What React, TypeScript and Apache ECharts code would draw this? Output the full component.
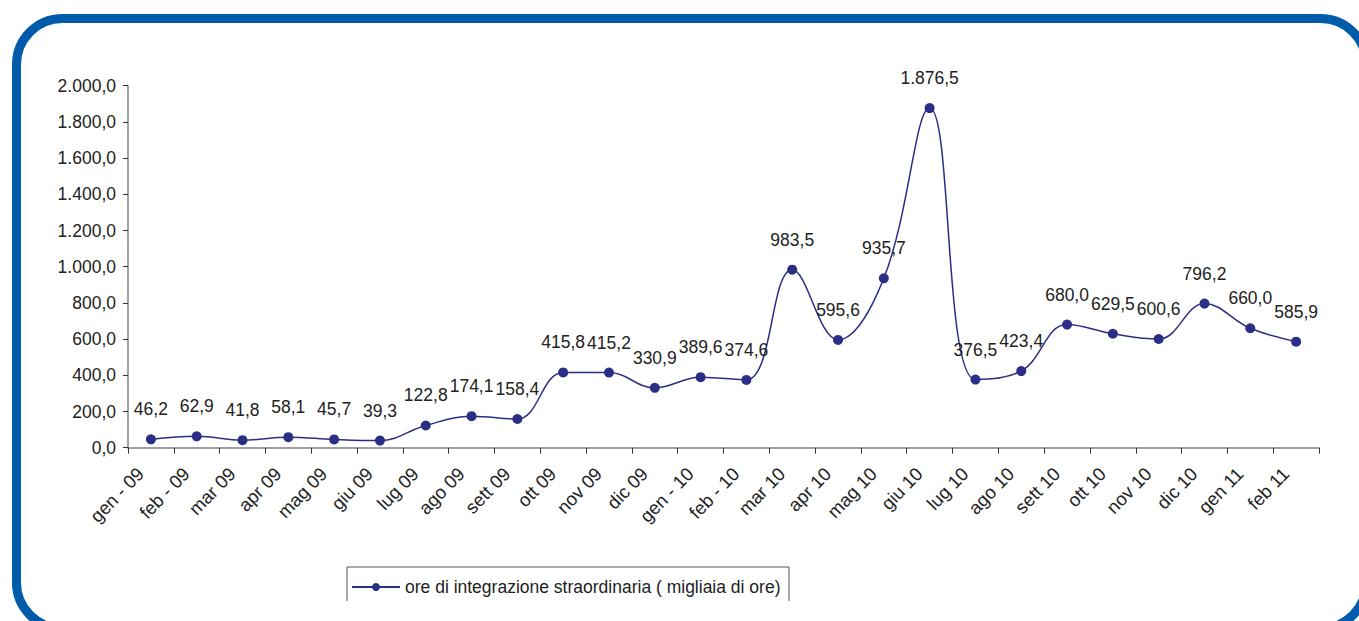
import React, { useEffect, useRef } from "react";
import * as echarts from "echarts";

const categories = [
  "gen - 09", "feb - 09", "mar 09", "apr 09", "mag 09", "giu 09", "lug 09", "ago 09", "sett 09",
  "ott 09", "nov 09", "dic 09", "gen - 10", "feb - 10", "mar 10", "apr 10", "mag 10", "giu 10",
  "lug 10", "ago 10", "sett 10", "ott 10", "nov 10", "dic 10", "gen 11", "feb 11",
];
const values = [
  46.2, 62.9, 41.8, 58.1, 45.7, 39.3, 122.8, 174.1, 158.4, 415.8, 415.2, 330.9, 389.6,
  374.6, 983.5, 595.6, 935.7, 1876.5, 376.5, 423.4, 680.0, 629.5, 600.6, 796.2, 660.0, 585.9,
];
const seriesName = "ore di integrazione straordinaria ( migliaia di ore)";

const fmt = (v: number) => {
  const s = v.toFixed(1);
  const [i, d] = s.split(".");
  const ii = i.replace(/\B(?=(\d{3})+(?!\d))/g, ".");
  return ii + "," + d;
};

export default function App() {
  const ref = useRef<HTMLDivElement>(null);
  useEffect(() => {
    const chart = echarts.init(ref.current!, null, { renderer: "svg" });
    const font = "'Liberation Sans', Arial, sans-serif";
    const navy = "#2b2e85";
    chart.setOption({
      animation: false,
      backgroundColor: "#ffffff",
      textStyle: { fontFamily: font },
      grid: { left: 128, right: 40, top: 85.7, bottom: 173.3, containLabel: false },
      xAxis: {
        type: "category",
        data: categories,
        boundaryGap: true,
        axisLine: { lineStyle: { color: "#808080", width: 1.5 } },
        axisTick: { show: true, inside: false, length: 6, lineStyle: { color: "#333" } },
        axisLabel: {
          rotate: 46,
          interval: 0,
          margin: 12,
          padding: [0, 15, 0, 0],
          color: "#222",
          fontSize: 18.5,
          fontFamily: font,
        },
        splitLine: { show: false },
      },
      yAxis: {
        type: "value",
        min: 0,
        max: 2000,
        interval: 200,
        axisLine: { show: true, lineStyle: { color: "#808080", width: 1.5 } },
        axisTick: { show: true, inside: false, length: 5, lineStyle: { color: "#333" } },
        axisLabel: {
          margin: 12,
          color: "#222",
          fontSize: 17.5,
          fontFamily: font,
          formatter: (v: number) => fmt(v),
        },
        splitLine: { show: false },
      },
      legend: {
        left: 346,
        top: 573,
        itemWidth: 48,
        itemHeight: 10,
        itemGap: 6,
        textStyle: { fontSize: 17.5, color: "#222", fontFamily: font },
        data: [seriesName],
      },
      series: [
        {
          name: seriesName,
          type: "line",
          data: values,
          smooth: 0.4,
          symbol: "circle",
          symbolSize: 10,
          lineStyle: { color: navy, width: 1.5 },
          itemStyle: { color: navy },
          label: {
            show: true,
            position: "top",
            distance: 16,
            color: "#222",
            fontSize: 17.5,
            fontFamily: font,
            formatter: (p: any) => fmt(p.value),
          },
        },
      ],
      graphic: [
        {
          type: "rect",
          shape: { x: 16.5, y: 18.5, width: 1350, height: 610, r: 46 },
          style: { fill: "none", stroke: "#005bab", lineWidth: 9 },
          silent: true,
        },
        {
          type: "polyline",
          shape: { points: [[347, 601], [347, 567], [789, 567], [789, 601]] },
          style: { fill: "none", stroke: "#555", lineWidth: 1 },
          silent: true,
        },
      ],
    });
    return () => chart.dispose();
  }, []);
  return (
    <div
      ref={ref}
      style={{ position: "absolute", left: 0, top: 0, width: 1359, height: 621 }}
    />
  );
}
